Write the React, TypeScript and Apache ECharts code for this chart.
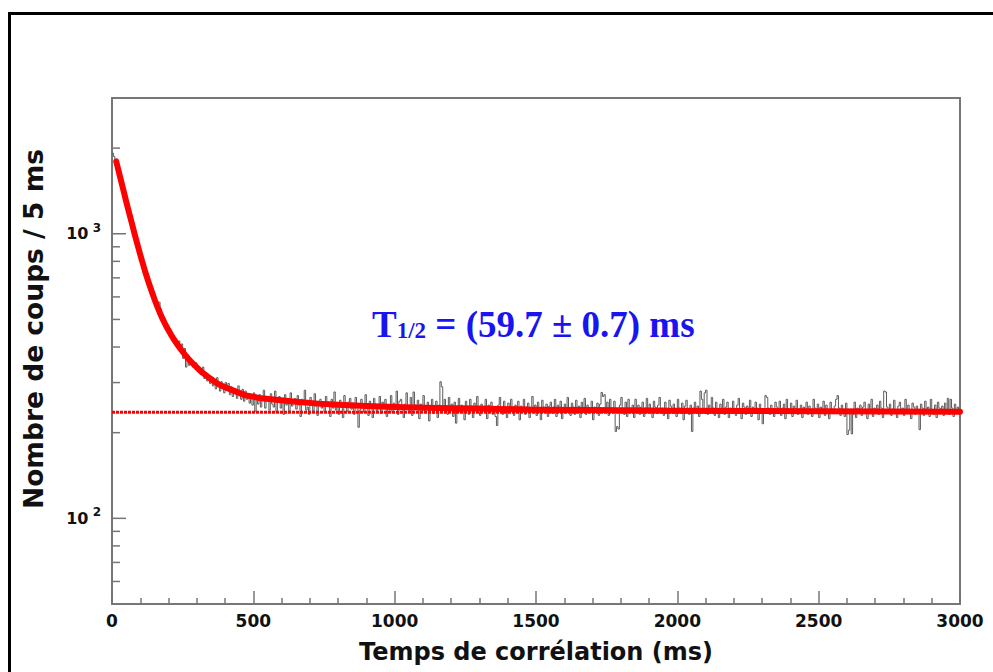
import React, { useEffect, useRef } from "react";
import * as echarts from "echarts";

// ---- data ----
const binWidthMs = 5;
const histCounts = [
  // 0 - 545 ms
  1920, 1870, 1800, 1760, 1690, 1620, 1540, 1470, 1400, 1335,
  1275, 1220, 1160, 1110, 1060, 1015, 968, 925, 890, 850,
  820, 785, 752, 722, 700, 676, 650, 628, 612, 590,
  574, 558, 560, 575, 545, 510, 500, 470, 478, 455,
  455, 440, 428, 436, 410, 418, 398, 420, 392, 410,
  365, 395, 340, 372, 345, 360, 352, 340, 338, 352,
  330, 342, 322, 335, 340, 310, 318, 304, 316, 298,
  310, 292, 305, 285, 312, 296, 280, 302, 288, 276,
  300, 282, 298, 272, 290, 268, 286, 276, 264, 292,
  270, 262, 284, 258, 280, 262, 274, 254, 268, 250,
  276, 238, 266, 252, 272, 246, 260, 282, 244, 266,
  // 550 - 2945 ms
  262, 240, 274, 252, 246, 280, 236, 258, 268, 244, 256, 232, 272, 250, 262, 238, 276, 248, 254, 264,
  242, 270, 250, 228, 262, 256, 282, 240, 246, 232, 266, 252, 238, 274, 248, 230, 258, 262, 244, 254,
  236, 268, 248, 256, 228, 262, 244, 278, 240, 252, 232, 260, 246, 226, 270, 250, 238, 256, 264, 242,
  254, 232, 266, 246, 209, 240, 262, 250, 236, 272, 244, 230, 258, 248, 226, 264, 252, 238, 246, 268,
  234, 256, 244, 262, 228, 250, 240, 270, 236, 254, 246, 280, 232, 258, 262, 242, 226, 252, 276, 248,
  238, 266, 230, 278, 250, 244, 260, 224, 252, 240, 270, 236, 248, 256, 220, 246, 262, 234, 244, 258,
  226, 250, 302, 290, 240, 262, 248, 232, 266, 238, 252, 228, 256, 216, 242, 264, 236, 250, 244, 222,
  258, 240, 232, 262, 248, 226, 254, 244, 268, 236, 230, 252, 246, 240, 262, 224, 250, 238, 256, 232,
  244, 228, 212, 250, 266, 240, 232, 258, 246, 226, 254, 238, 262, 244, 230, 250, 236, 258, 222, 248,
  240, 262, 232, 246, 254, 226, 244, 268, 238, 250, 230, 256, 242, 222, 260, 246, 236, 252, 228, 248,
  256, 234, 246, 262, 228, 250, 240, 258, 224, 244, 252, 236, 266, 242, 230, 254, 246, 232, 260, 238,
  248, 226, 256, 240, 264, 232, 250, 236, 244, 258, 222, 246, 238, 254, 230, 252, 277, 268, 272, 240,
  256, 230, 262, 244, 236, 258, 202, 210, 206, 250, 266, 240, 232, 256, 228, 262, 244, 236, 250, 226,
  262, 238, 250, 232, 246, 256, 228, 244, 264, 236, 252, 240, 226, 258, 246, 234, 250, 266, 238, 244,
  230, 256, 242, 224, 260, 248, 236, 252, 240, 228, 262, 244, 236, 254, 222, 248, 260, 238, 232, 250,
  202, 244, 256, 236, 248, 228, 280, 262, 240, 276, 282, 232, 250, 238, 266, 244, 230, 256, 240, 226,
  252, 240, 262, 232, 246, 256, 226, 244, 236, 258, 242, 230, 250, 264, 238, 224, 254, 246, 232, 248,
  240, 260, 228, 246, 236, 256, 244, 222, 252, 238, 215, 234, 270, 266, 244, 232, 250, 240, 228, 256,
  246, 236, 258, 230, 244, 252, 224, 262, 240, 234, 254, 228, 248, 242, 260, 232, 238, 250, 226, 246,
  240, 256, 232, 248, 236, 228, 262, 244, 234, 252, 226, 246, 240, 258, 230, 250, 238, 224, 256, 242,
  234, 248, 262, 270, 244, 230, 250, 236, 228, 254, 197, 204, 240, 198, 232, 256, 226, 244, 238, 250,
  230, 246, 256, 236, 224, 252, 240, 262, 228, 244, 236, 250, 232, 258, 244, 226, 280, 278, 246, 236,
  252, 230, 242, 260, 236, 226, 248, 256, 238, 244, 230, 262, 234, 250, 240, 224, 254, 246, 232, 248,
  238, 205, 252, 244, 230, 258, 236, 246, 228, 262, 240, 232, 250, 226, 256, 244, 236, 248, 230, 254,
  // 2950 - 2995 ms
  240, 264, 232, 262, 244, 228, 252, 236, 246, 240,
];

const fitTimes = [
  15, 20, 30, 40, 50, 60, 70, 80, 90, 100, 110, 120, 130, 140, 150, 160, 170, 180, 190, 200,
  210, 220, 230, 240, 250, 260, 270, 280, 290, 300, 320, 340, 360, 380, 400, 430, 470, 520,
  580, 650, 730, 800, 900, 1000, 1150, 1300, 1500, 1700, 2000, 2500, 3000,
];
const fitValues = [
  1796, 1715, 1564, 1427, 1302, 1191, 1090, 998, 917, 844, 780, 722, 673, 629, 590, 556, 526, 500, 477, 458,
  440, 424, 410, 397, 385, 374, 364, 355, 347, 339, 325, 314, 304, 295, 289, 281, 271, 265,
  261, 257, 253, 250.6, 248, 246, 244, 243, 241, 240.5, 239, 238, 237,
];

const backgroundLevel = 236;
const backgroundRange = [0, 3000];

const yMajorTicks = [100, 1000];
const yMinorTicks = [60, 70, 80, 90, 200, 300, 400, 500, 600, 700, 800, 900, 2000];

const xTitle = "Temps de corrélation (ms)";
const yTitle = "Nombre de coups / 5 ms";

export default function App() {
  const ref = useRef<HTMLDivElement>(null);

  useEffect(() => {
    if (!ref.current) return;
    const chart = echarts.init(ref.current, undefined, { renderer: "svg" });

    const histData: number[][] = histCounts.map((c, i) => [i * binWidthMs, c]);
    histData.push([histCounts.length * binWidthMs, histCounts[histCounts.length - 1]]);

    const fitData = fitTimes.map((t, i) => [t, fitValues[i]]);
    const bgData = backgroundRange.map((t) => [t, backgroundLevel]);
    const tickData = [
      ...yMajorTicks.map((v) => [0, v, 1]),
      ...yMinorTicks.map((v) => [0, v, 0]),
    ];

    const labelFont = "'DejaVu Sans', sans-serif";
    const serif = "'Liberation Serif', 'Times New Roman', serif";

    chart.setOption({
      animation: false,
      backgroundColor: "#ffffff",
      grid: {
        left: 112,
        top: 98,
        width: 848,
        height: 506,
        show: true,
        borderColor: "#767676",
        borderWidth: 2,
        backgroundColor: "transparent",
      },
      xAxis: {
        type: "value",
        min: 0,
        max: 3000,
        interval: 500,
        name: xTitle,
        nameLocation: "middle",
        nameGap: 36,
        nameTextStyle: {
          fontFamily: labelFont,
          fontWeight: "bold",
          fontSize: 24,
          color: "#111",
        },
        axisLine: { show: false },
        axisTick: { show: true, inside: true, length: 13, lineStyle: { color: "#767676", width: 1.5 } },
        minorTick: { show: true, splitNumber: 5, length: 6, lineStyle: { color: "#767676", width: 1.5 } },
        splitLine: { show: false },
        minorSplitLine: { show: false },
        axisLabel: {
          margin: 8,
          formatter: (v: number) => String(v),
          fontFamily: labelFont,
          fontWeight: "bold",
          fontSize: 17,
          color: "#111",
          showMinLabel: true,
          showMaxLabel: true,
        },
      },
      yAxis: {
        type: "log",
        logBase: 10,
        min: 50,
        max: 3000,
        axisLine: { show: false },
        axisTick: { show: false },
        splitLine: { show: false },
        axisLabel: {
          margin: 11,
          formatter: (v: number) => {
            const e = Math.log10(v);
            if (Math.abs(e - Math.round(e)) < 1e-6) {
              return "{b|10}{s| " + Math.round(e) + "}";
            }
            return "";
          },
          rich: {
            b: { fontFamily: labelFont, fontWeight: "bold", fontSize: 16, color: "#111" },
            s: { fontFamily: labelFont, fontWeight: "bold", fontSize: 12, color: "#111", padding: [0, 0, 12, 0] },
          },
        },
      },
      graphic: [
        {
          type: "rect",
          shape: { x: 9.5, y: 13.5, width: 1100, height: 800 },
          style: { fill: "none", stroke: "#000", lineWidth: 3 },
          silent: true,
        },
        {
          type: "text",
          x: 33,
          y: 329,
          rotation: Math.PI / 2,
          style: {
            text: yTitle,
            fontFamily: labelFont,
            fontWeight: "bold",
            fontSize: 26.5,
            fill: "#111",
            align: "center",
            verticalAlign: "middle",
          },
        },
        {
          type: "text",
          x: 372,
          y: 324,
          style: {
            text: "{t|T}{sub|1/2}{t| = (59.7 ± 0.7) ms}",
            verticalAlign: "middle",
            rich: {
              t: { fontFamily: serif, fontWeight: "bold", fontSize: 37, fill: "#1a14f0", lineHeight: 44 },
              sub: { fontFamily: serif, fontWeight: "bold", fontSize: 23, fill: "#1a14f0", padding: [12, 0, 0, 0] },
            },
          },
        },
      ],
      series: [
        {
          type: "line",
          name: "histogram",
          data: histData,
          step: "end",
          showSymbol: false,
          symbol: "none",
          lineStyle: { color: "#5c5c5c", width: 1 },
          z: 2,
          silent: true,
        },
        {
          type: "line",
          name: "background",
          data: bgData,
          showSymbol: false,
          symbol: "none",
          lineStyle: { color: "#ff0000", width: 3, type: [3, 1] },
          z: 3,
          silent: true,
        },
        {
          type: "line",
          name: "fit",
          data: fitData,
          smooth: false,
          showSymbol: false,
          symbol: "none",
          lineStyle: { color: "#ff0000", width: 6, cap: "round", join: "round" },
          z: 4,
          silent: true,
        },
        {
          type: "custom",
          name: "yticks",
          data: tickData,
          encode: { x: 0, y: 1 },
          silent: true,
          z: 5,
          renderItem: (params: any, api: any) => {
            const p = api.coord([0, api.value(1)]);
            const len = api.value(2) === 1 ? 14 : 8;
            return {
              type: "line",
              shape: { x1: p[0], y1: p[1], x2: p[0] + len, y2: p[1] },
              style: { stroke: "#767676", lineWidth: 1.5 },
            };
          },
        },
      ],
    });

    return () => chart.dispose();
  }, []);

  return (
    <div
      ref={ref}
      style={{ position: "fixed", left: 0, top: 0, width: 993, height: 672 }}
    />
  );
}
